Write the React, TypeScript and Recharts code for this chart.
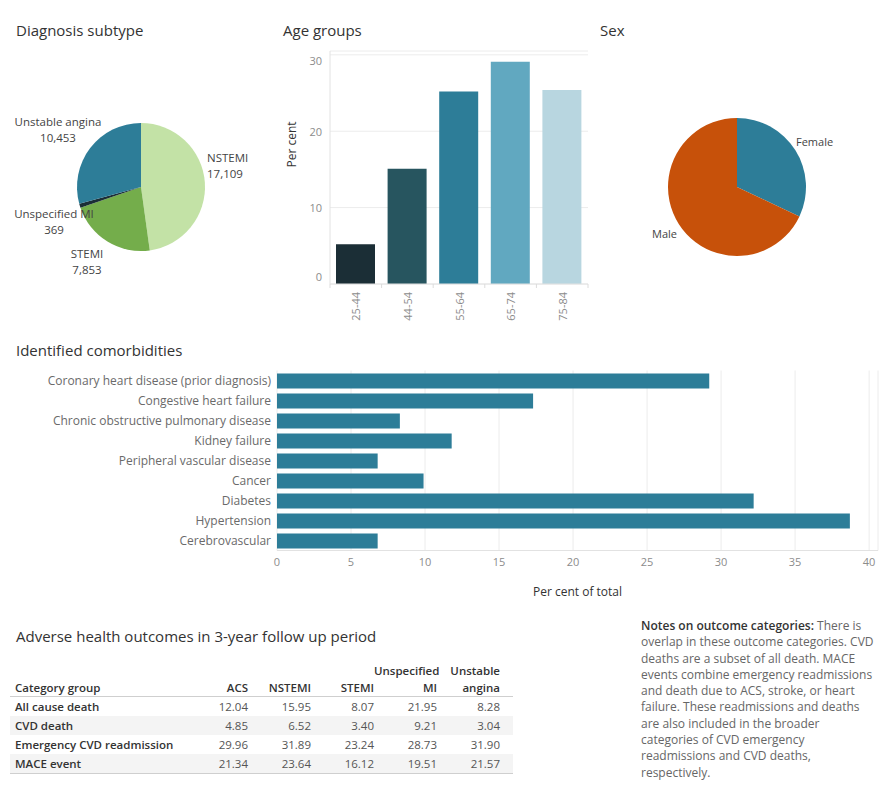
import React from 'react';
import { Bar, BarChart, CartesianGrid, Cell, Pie, PieChart, XAxis, YAxis } from 'recharts';

// Diagnosis subtype counts
const subtypeNames = ['NSTEMI', 'STEMI', 'Unspecified MI', 'Unstable angina'];
const subtypeCounts = [17109, 7853, 369, 10453];
const subtypeColors = ['#c3e2a6', '#74ad4b', '#1b2e36', '#2d7d98'];

// Age groups, per cent
const ageGroups = ['25-44', '44-54', '55-64', '65-74', '75-84'];
const agePercents = [5.2, 15.1, 25.2, 29.1, 25.4];
const ageColors = ['#1b2e36', '#27555f', '#2d7d98', '#61a8c0', '#b8d6e0'];
const ageTicks = [0, 10, 20, 30];

// Sex split, per cent
const sexNames = ['Female', 'Male'];
const sexPercents = [32, 68];
const sexColors = ['#2d7d98', '#c7510a'];

// Comorbidities, per cent of total
const comorbidityNames = [
  'Coronary heart disease (prior diagnosis)',
  'Congestive heart failure',
  'Chronic obstructive pulmonary disease',
  'Kidney failure',
  'Peripheral vascular disease',
  'Cancer',
  'Diabetes',
  'Hypertension',
  'Cerebrovascular',
];
const comorbidityPercents = [29.2, 17.3, 8.3, 11.8, 6.8, 9.9, 32.2, 38.7, 6.8];
const comorbidityTicks = [0, 5, 10, 15, 20, 25, 30, 35, 40];

// Outcome table
const outcomeColumns = ['ACS', 'NSTEMI', 'STEMI', 'Unspecified MI', 'Unstable angina'];
const outcomeGroups = ['All cause death', 'CVD death', 'Emergency CVD readmission', 'MACE event'];
const allCauseDeath = [12.04, 15.95, 8.07, 21.95, 8.28];
const cvdDeath = [4.85, 6.52, 3.4, 9.21, 3.04];
const cvdReadmission = [29.96, 31.89, 23.24, 28.73, 31.9];
const maceEvent = [21.34, 23.64, 16.12, 19.51, 21.57];

const subtypeData = subtypeNames.map((name, i) => ({ name, value: subtypeCounts[i] }));
const ageData = ageGroups.map((group, i) => ({ group, value: agePercents[i] }));
const sexData = sexNames.map((name, i) => ({ name, value: sexPercents[i] }));
const comorbidityData = comorbidityNames.map((name, i) => ({ name, value: comorbidityPercents[i] }));
const outcomeRows = [allCauseDeath, cvdDeath, cvdReadmission, maceEvent];

const FONT = '"Open Sans", "Noto Sans", sans-serif';
const TITLE = '#333333';
const GRID = '#ececec';
const TICK = '#8c8c8c';
const NO_MARGIN = { top: 0, right: 0, bottom: 0, left: 0 };

const subtypeLabelSpots: Record<string, { dx: number; dy: number; anchor: 'start' | 'middle' | 'end' }> = {
  NSTEMI: { dx: 66, dy: -22, anchor: 'start' },
  STEMI: { dx: -54, dy: 74, anchor: 'middle' },
  'Unspecified MI': { dx: -87, dy: 34, anchor: 'middle' },
  'Unstable angina': { dx: -83, dy: -58, anchor: 'middle' },
};

const sexLabelSpots: Record<string, { dx: number; dy: number; anchor: 'start' | 'end' }> = {
  Female: { dx: 59, dy: -46, anchor: 'start' },
  Male: { dx: -60, dy: 46, anchor: 'end' },
};

function SubtypeLabel(props: any) {
  const { cx, cy, name, value } = props;
  const spot = subtypeLabelSpots[name];
  const x = cx + spot.dx;
  const y = cy + spot.dy;
  return (
    <text x={x} y={y} textAnchor={spot.anchor} fill="#444" fontSize={11.5} dominantBaseline="central">
      <tspan x={x} y={y - 8}>{name}</tspan>
      <tspan x={x} y={y + 8}>{Number(value).toLocaleString('en-US')}</tspan>
    </text>
  );
}

function SexLabel(props: any) {
  const { cx, cy, name } = props;
  const spot = sexLabelSpots[name];
  return (
    <text x={cx + spot.dx} y={cy + spot.dy} textAnchor={spot.anchor} fill="#444" fontSize={11} dominantBaseline="central">
      {name}
    </text>
  );
}

const AGE_PLOT_WIDTH = 258;

function AgeTick({ x, y, payload, index }: any) {
  const half = AGE_PLOT_WIDTH / ageGroups.length / 2;
  const axisY = y - 8;
  return (
    <g>
      <line x1={x - half} x2={x - half} y1={axisY} y2={axisY + 4} stroke="#dcdcdc" />
      {index === ageGroups.length - 1 && (
        <line x1={x + half} x2={x + half} y1={axisY} y2={axisY + 4} stroke="#dcdcdc" />
      )}
      <text
        transform={`translate(${x},${y}) rotate(-90)`}
        textAnchor="end"
        dominantBaseline="central"
        fill={TICK}
        fontSize={11}
      >
        {payload.value}
      </text>
    </g>
  );
}

// edge labels are nudged inside the plot, the way the top and bottom ticks sit
function AgeValueTick({ x, y, payload }: any) {
  const last = ageTicks[ageTicks.length - 1];
  const shift = payload.value === last ? 6 : payload.value === 0 ? -8 : 0;
  return (
    <text x={x} y={y + shift} textAnchor="end" dominantBaseline="central" fill={TICK} fontSize={11}>
      {payload.value}
    </text>
  );
}

function Title({ x, y, children }: { x: number; y: number; children: React.ReactNode }) {
  return (
    <div style={{ position: 'absolute', left: x, top: y, fontSize: 15, color: TITLE, lineHeight: '20px', whiteSpace: 'nowrap' }}>
      {children}
    </div>
  );
}

const colWidths = [175, 63, 63, 63, 63, 63];

function OutcomeTable() {
  return (
    <div style={{ position: 'absolute', left: 10, top: 660, width: 503, fontSize: 11.5, color: '#444' }}>
      <div
        style={{
          display: 'flex',
          alignItems: 'flex-end',
          height: 36,
          lineHeight: '17px',
          borderBottom: '1.5px solid #cfcfcf',
          color: '#333',
          fontWeight: 600,
        }}
      >
        <div style={{ width: colWidths[0], paddingLeft: 5, boxSizing: 'border-box' }}>Category group</div>
        {outcomeColumns.map((col, i) => (
          <div key={col} style={{ width: colWidths[i + 1], textAlign: 'right' }}>
            {col.includes(' ') ? (
              <>
                {col.split(' ')[0]}
                <br />
                {col.split(' ').slice(1).join(' ')}
              </>
            ) : (
              col
            )}
          </div>
        ))}
      </div>
      {outcomeGroups.map((group, r) => (
        <div
          key={group}
          style={{
            display: 'flex',
            alignItems: 'center',
            height: 19,
            background: r % 2 === 1 ? '#f4f4f4' : '#ffffff',
            borderBottom: r === outcomeGroups.length - 1 ? '1.5px solid #cfcfcf' : 'none',
          }}
        >
          <div style={{ width: colWidths[0], paddingLeft: 5, boxSizing: 'border-box', fontWeight: 600, color: '#333' }}>
            {group}
          </div>
          {outcomeRows[r].map((v, i) => (
            <div key={i} style={{ width: colWidths[i + 1], textAlign: 'right', color: '#555' }}>
              {v.toFixed(2)}
            </div>
          ))}
        </div>
      ))}
    </div>
  );
}

export default function App() {
  return (
    <div
      style={{
        position: 'absolute',
        left: 0,
        top: 0,
        width: 890,
        height: 800,
        background: '#fff',
        fontFamily: FONT,
        overflow: 'hidden',
      }}
    >
      <Title x={16} y={20}>Diagnosis subtype</Title>
      <div style={{ position: 'absolute', left: 0, top: 0 }}>
        <PieChart width={280} height={300} margin={NO_MARGIN}>
          <Pie
            data={subtypeData}
            dataKey="value"
            nameKey="name"
            cx={141}
            cy={187}
            outerRadius={64}
            startAngle={90}
            endAngle={-270}
            stroke="none"
            labelLine={false}
            label={SubtypeLabel}
            isAnimationActive={false}
          >
            {subtypeData.map((d, i) => (
              <Cell key={d.name} fill={subtypeColors[i]} />
            ))}
          </Pie>
        </PieChart>
      </div>

      <Title x={283} y={20}>Age groups</Title>
      <div style={{ position: 'absolute', left: 270, top: 30 }}>
        <BarChart width={330} height={310} data={ageData} margin={{ top: 21, right: 12, left: 0, bottom: 0 }} barSize={39}>
          <CartesianGrid horizontal vertical={false} stroke={GRID} />
          <XAxis
            dataKey="group"
            height={56}
            interval={0}
            tickLine={false}
            axisLine={{ stroke: '#e2e2e2' }}
            tick={<AgeTick />}
          />
          <YAxis
            width={60}
            domain={[0, 30.5]}
            ticks={ageTicks}
            tickLine={false}
            axisLine={{ stroke: '#e2e2e2' }}
            tick={<AgeValueTick />}
            label={{ value: 'Per cent', angle: -90, position: 'insideLeft', offset: 22, fill: TITLE, fontSize: 12 }}
          />
          <Bar dataKey="value" isAnimationActive={false}>
            {ageData.map((d, i) => (
              <Cell key={d.group} fill={ageColors[i]} />
            ))}
          </Bar>
        </BarChart>
      </div>

      <Title x={600} y={20}>Sex</Title>
      <div style={{ position: 'absolute', left: 590, top: 10 }}>
        <PieChart width={300} height={290} margin={NO_MARGIN}>
          <Pie
            data={sexData}
            dataKey="value"
            nameKey="name"
            cx={147}
            cy={177}
            outerRadius={69}
            startAngle={90}
            endAngle={-270}
            stroke="none"
            labelLine={false}
            label={SexLabel}
            isAnimationActive={false}
          >
            {sexData.map((d, i) => (
              <Cell key={d.name} fill={sexColors[i]} />
            ))}
          </Pie>
        </PieChart>
      </div>

      <Title x={16} y={340}>Identified comorbidities</Title>
      <div style={{ position: 'absolute', left: 0, top: 360 }}>
        <BarChart
          width={890}
          height={240}
          data={comorbidityData}
          layout="vertical"
          margin={{ top: 10.5, right: 12, left: 0, bottom: 0 }}
          barSize={15}
        >
          <CartesianGrid vertical horizontal={false} stroke={GRID} />
          <XAxis
            type="number"
            domain={[0, 40.6]}
            ticks={comorbidityTicks}
            height={49.5}
            tickLine={false}
            axisLine={{ stroke: '#e2e2e2' }}
            tick={{ fill: TICK, fontSize: 11 }}
            label={{ value: 'Per cent of total', position: 'insideBottom', offset: 4, fill: TITLE, fontSize: 12 }}
          />
          <YAxis
            type="category"
            dataKey="name"
            width={277}
            interval={0}
            tickLine={false}
            axisLine={false}
            tickSize={0}
            tickMargin={6}
            tick={{ fill: '#6a6a6a', fontSize: 12 }}
          />
          <Bar dataKey="value" fill="#2d7d98" isAnimationActive={false} />
        </BarChart>
      </div>

      <Title x={16} y={626}>Adverse health outcomes in 3-year follow up period</Title>
      <OutcomeTable />

      <div
        style={{
          position: 'absolute',
          left: 641,
          top: 618,
          width: 238,
          fontSize: 12,
          lineHeight: '16.3px',
          color: '#666',
        }}
      >
        <span style={{ fontWeight: 600, color: '#333' }}>Notes on outcome categories:</span> There is overlap in these
        outcome categories. CVD deaths are a subset of all death. MACE events combine emergency readmissions and death
        due to ACS, stroke, or heart failure. These readmissions and deaths are also included in the broader categories
        of CVD emergency readmissions and CVD deaths, respectively.
      </div>
    </div>
  );
}
